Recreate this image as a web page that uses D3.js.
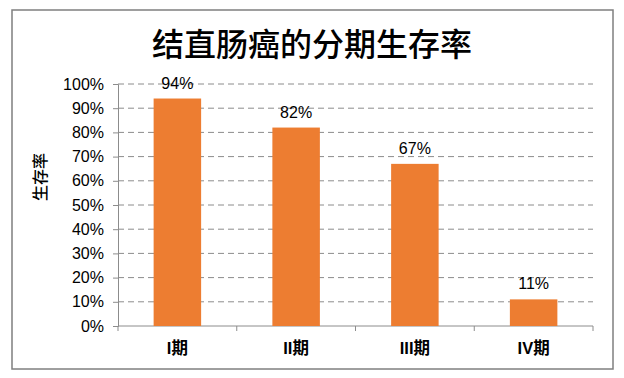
<!DOCTYPE html>
<html>
<head>
<meta charset="utf-8">
<script src="https://cdn.jsdelivr.net/npm/d3@7"></script>
<style>
  body { margin: 0; background: #fff; }
  text { font-family: "Liberation Sans", Arial, "Noto Sans CJK SC", sans-serif; }
</style>
</head>
<body>
<script>
// chart data
var stages = ["I期", "II期", "III期", "IV期"];
var survival = [94, 82, 67, 11];
var yTicks = [0, 10, 20, 30, 40, 50, 60, 70, 80, 90, 100];

var W = 624, H = 378;
var margin = {top: 84, right: 31, bottom: 52, left: 118};

var svg = d3.select("body").append("svg")
    .attr("width", W)
    .attr("height", H);

// outer frame
svg.append("rect")
    .attr("x", 12).attr("y", 10)
    .attr("width", 601).attr("height", 359)
    .attr("fill", "#fff")
    .attr("stroke", "#7f7f7f")
    .attr("stroke-width", 1.5);

var width = W - margin.left - margin.right,
    height = H - margin.top - margin.bottom;

var x = d3.scaleBand()
    .domain(stages)
    .range([0, width])
    .paddingInner(0.6)
    .paddingOuter(0.3);

var y = d3.scaleLinear()
    .domain([0, 100])
    .range([height, 0]);

var g = svg.append("g")
    .attr("transform", "translate(" + margin.left + "," + margin.top + ")");

// dashed gridlines
g.selectAll(".grid")
    .data(yTicks.slice(1))
    .enter().append("line")
    .attr("x1", 0).attr("x2", width)
    .attr("y1", function(d) { return y(d); })
    .attr("y2", function(d) { return y(d); })
    .attr("stroke", "#8c8c8c")
    .attr("stroke-width", 1)
    .attr("stroke-dasharray", "6,4");

// y axis
var yAxis = g.append("g")
    .call(d3.axisLeft(y).tickValues(yTicks).tickSize(5).tickPadding(9)
      .tickFormat(function(d) { return d + "%"; }));
yAxis.select(".domain").attr("stroke", "#8c8c8c");
yAxis.selectAll(".tick line").attr("stroke", "#8c8c8c");
yAxis.selectAll("text")
    .style("font-size", "16px")
    .attr("fill", "#000");

// x axis with ticks at band boundaries
var xAxis = g.append("g")
    .attr("transform", "translate(0," + height + ")");
xAxis.append("line")
    .attr("x1", 0).attr("x2", width)
    .attr("stroke", "#8c8c8c");
var bounds = stages.map(function(s) { return x(s) - x.step() * x.paddingInner() / 2; });
bounds.push(width);
xAxis.selectAll(".xt")
    .data(bounds)
    .enter().append("line")
    .attr("x1", function(d) { return d; })
    .attr("x2", function(d) { return d; })
    .attr("y1", 0).attr("y2", 5)
    .attr("stroke", "#8c8c8c");
xAxis.selectAll(".xl")
    .data(stages)
    .enter().append("text")
    .attr("x", function(d) { return x(d) + x.bandwidth() / 2; })
    .attr("y", 28)
    .attr("text-anchor", "middle")
    .style("font-size", "16.5px")
    .style("font-weight", "bold")
    .text(function(d) { return d; });

// bars
g.selectAll(".bar")
    .data(survival)
    .enter().append("rect")
    .attr("x", function(d, i) { return x(stages[i]); })
    .attr("y", function(d) { return y(d); })
    .attr("width", x.bandwidth())
    .attr("height", function(d) { return height - y(d); })
    .attr("fill", "#ED7D31");

// value labels
g.selectAll(".lbl")
    .data(survival)
    .enter().append("text")
    .attr("x", function(d, i) { return x(stages[i]) + x.bandwidth() / 2; })
    .attr("y", function(d) { return y(d) - 10; })
    .attr("text-anchor", "middle")
    .style("font-size", "16px")
    .text(function(d) { return d + "%"; });

// title
svg.append("text")
    .attr("x", 312).attr("y", 56)
    .attr("text-anchor", "middle")
    .style("font-size", "32px")
    .style("font-weight", "500")
    .style("font-family", "'Noto Sans CJK SC', sans-serif")
    .text("结直肠癌的分期生存率");

// y axis title
svg.append("text")
    .attr("transform", "translate(46,177) rotate(-90)")
    .attr("text-anchor", "middle")
    .style("font-size", "16px")
    .style("font-weight", "500")
    .style("font-family", "'Noto Sans CJK SC', sans-serif")
    .text("生存率");
</script>
</body>
</html>
